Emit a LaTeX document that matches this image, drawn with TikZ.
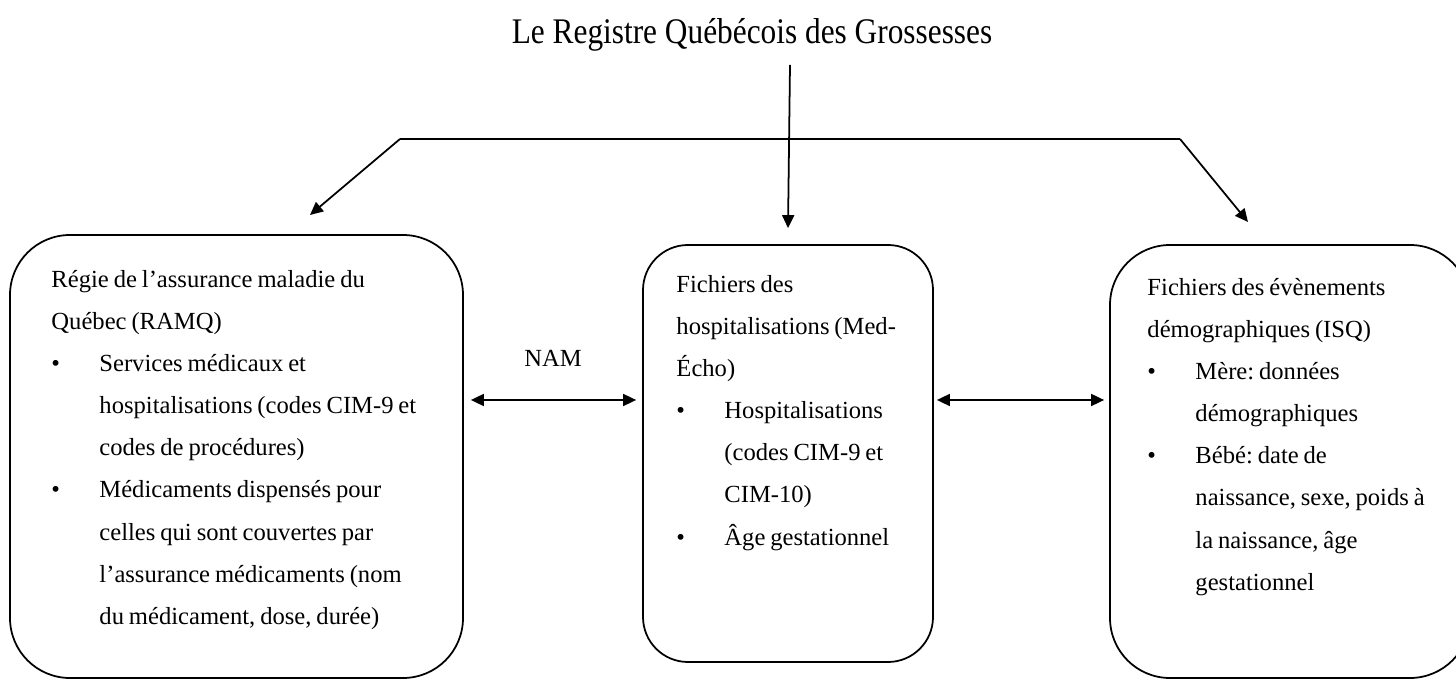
\documentclass[tikz,border=0pt]{standalone}
\usepackage{graphicx}
\usepackage{fontspec}
\setmainfont{Liberation Serif}
\usetikzlibrary{arrows.meta,positioning,calc}

\newcommand{\puce}[1]{\makebox[0.96cm][l]{\textbullet}#1}
\newcommand{\suite}{\hspace*{0.96cm}}

\begin{document}
\begin{tikzpicture}[
  font=\fontsize{14}{24}\selectfont,
  source/.style={draw, line width=1pt, rounded corners=1.2cm},
  info/.style={align=left, text width=8cm, inner sep=0pt, anchor=base west,
    execute at begin node={\frenchspacing\spaceskip=2.8pt plus 1pt minus 0.5pt\relax}},
  link/.style={-{Triangle[length=0.26cm,width=0.24cm]}, line width=1pt},
  dlink/.style={{Triangle[length=0.26cm,width=0.24cm]}-{Triangle[length=0.26cm,width=0.24cm]}, line width=1pt},
]
  \useasboundingbox (0,0) rectangle (29.12,-13.58);

  % Title
  \node[font=\fontsize{20.5}{24}\selectfont, anchor=base] (title) at (15.04,-0.88)
    {\scalebox{0.87}[1]{Le Registre Québécois des Grossesses}};

  % Sources
  \node[source, minimum width=9.06cm, minimum height=8.86cm] (ramq) at (4.73,-9.13) {};
  \node[source, rounded corners=0.9cm, minimum width=5.8cm, minimum height=8.34cm] (hosp) at (15.76,-9.07) {};
  \node[source, minimum width=7.2cm, minimum height=8.66cm] (isq) at (25.8,-9.23) {};

  % Texts
  \node[info] (ramq-txt) at ($(ramq.north west)+(0.84,-1.06)$) {Régie de l’assurance maladie du\\
    Québec (RAMQ)\\
    \puce{Services médicaux et}\\
    \suite hospitalisations (codes CIM-9 et\\
    \suite codes de procédures)\\
    \puce{Médicaments dispensés pour}\\
    \suite celles qui sont couvertes par\\
    \suite l’assurance médicaments (nom\\
    \suite du médicament, dose, durée)};
  \node[info] (hosp-txt) at ($(hosp.north west)+(0.68,-0.96)$) {Fichiers des\\
    hospitalisations (Med-\\
    Écho)\\
    \puce{Hospitalisations}\\
    \suite (codes CIM-9 et\\
    \suite CIM-10)\\
    \puce{Âge gestationnel}};
  \node[info] (isq-txt) at ($(isq.north west)+(0.76,-1.02)$) {Fichiers des évènements\\
    démographiques (ISQ)\\
    \puce{Mère: données}\\
    \suite démographiques\\
    \puce{Bébé: date de}\\
    \suite naissance, sexe, poids à\\
    \suite la naissance, âge\\
    \suite gestationnel};

  % Fork
  \coordinate (top) at (15.8,-1.3);
  \coordinate (barL) at (8.0,-2.78);
  \coordinate (barR) at (23.6,-2.78);
  \coordinate (ramq-in) at (6.2,-4.3);
  \coordinate (isq-in) at (24.96,-4.44);
  \coordinate (lvl) at (0,-8.0);

  \draw[line width=1pt] (barL) -- (barR);
  \draw[link] (top) -- ([yshift=0.32cm]hosp.north);
  \draw[link] (barL) -- (ramq-in);
  \draw[link] (barR) -- (isq-in);

  % Links
  \draw[dlink, shorten <=0.14cm, shorten >=0.12cm] (ramq.east |- lvl) --
    node[anchor=base, yshift=0.66cm] (nam) {NAM} (hosp.west |- lvl);
  \draw[dlink, shorten <=0.06cm, shorten >=0.1cm] (hosp.east |- lvl) -- (isq.west |- lvl);
\end{tikzpicture}
\end{document}
